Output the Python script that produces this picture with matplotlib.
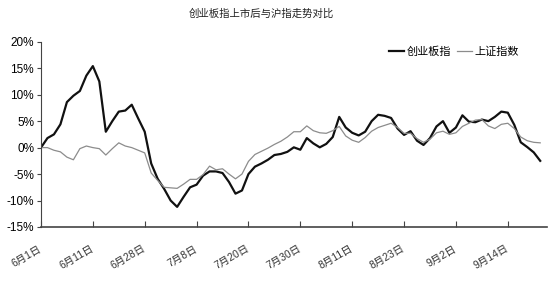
import matplotlib
matplotlib.use('Agg')
import matplotlib.pyplot as plt
import numpy as np

plt.rcParams['font.family'] = ['Liberation Sans', 'Noto Sans CJK SC']

# 创业板指 / 上证指数 相对6月1日的涨跌幅(%)
cyb = [0, 1.8, 2.5, 4.4, 8.6, 9.8, 10.7, 13.6, 15.4, 12.5,
       3.0, 5.0, 6.8, 7.0, 8.1, 5.5, 3.0, -3.0, -5.9, -7.8,
       -10.0, -11.2, -9.3, -7.5, -7.0, -5.3, -4.5, -4.5, -4.8, -6.5,
       -8.7, -8.1, -5.0, -3.6, -3.0, -2.3, -1.4, -1.2, -0.8, 0.05,
       -0.4, 1.8, 0.8, 0.05, 0.7, 2.0, 5.8, 3.8, 2.8, 2.3,
       3.0, 5.0, 6.2, 6.0, 5.6, 3.6, 2.4, 3.1, 1.3, 0.5,
       1.8, 4.0, 5.0, 2.8, 3.8, 6.1, 4.9, 4.8, 5.3, 5.0,
       5.8, 6.8, 6.6, 4.3, 1.0, 0.1, -0.9, -2.5]
szzs = [0, 0, -0.5, -0.8, -1.8, -2.3, -0.2, 0.3, 0, -0.2,
        -1.4, -0.2, 0.9, 0.3, 0, -0.5, -1.0, -4.8, -6.2, -7.5,
        -7.6, -7.7, -6.9, -6.0, -6.0, -5.1, -3.5, -4.2, -4.0, -5.0,
        -5.9, -5.0, -2.6, -1.3, -0.7, -0.1, 0.6, 1.2, 2.0, 3.0,
        3.0, 4.1, 3.2, 2.8, 2.7, 3.2, 4.0, 2.2, 1.4, 1.0,
        1.9, 3.1, 3.8, 4.2, 4.6, 3.8, 2.7, 2.7, 1.7, 1.0,
        1.6, 2.8, 3.1, 2.5, 2.8, 4.0, 4.6, 5.2, 5.3, 4.1,
        3.6, 4.4, 4.6, 3.6, 2.0, 1.3, 1.0, 0.9]
date_labels = ['6月1日', '6月11日', '6月28日', '7月8日', '7月20日',
               '7月30日', '8月11日', '8月23日', '9月2日', '9月14日']
label_step = 8  # 每8个交易日标一次
y_ticks = [-15, -10, -5, 0, 5, 10, 15, 20]


def draw_chart():
    fig = plt.figure(figsize=(5.5, 3.07), dpi=100)
    ax = fig.add_axes([0.0745, 0.2606, 0.9195, 0.6034])

    x = np.arange(len(cyb))
    ax.plot(x, cyb, color='#111111', lw=1.6, label='创业板指',
            solid_joinstyle='round')
    ax.plot(x, szzs, color='#8c8c8c', lw=0.9, label='上证指数',
            solid_joinstyle='round')

    ax.set_xlim(0, 78)
    ax.set_ylim(-15, 20)

    # 坐标轴
    ax.spines['top'].set_visible(False)
    ax.spines['right'].set_visible(False)
    ax.spines['bottom'].set_color('#444444')
    ax.spines['bottom'].set_linewidth(1.2)
    ax.spines['left'].set_color('#444444')
    ax.spines['left'].set_linewidth(0.8)

    ax.set_yticks(y_ticks)
    ax.set_yticklabels(['%d%%' % v for v in y_ticks], fontsize=8.5)
    ax.tick_params(axis='y', direction='out', length=3, width=0.8,
                   color='#444444', pad=2)

    xt = [i * label_step for i in range(len(date_labels))]
    ax.set_xticks(xt)
    ax.set_xticklabels(date_labels, fontsize=7.5, color='#333333',
                       rotation=30, ha='right', va='center',
                       rotation_mode='anchor')
    ax.tick_params(axis='x', direction='in', length=4, width=0.8,
                   color='#444444', pad=15)

    fig.text(0.475, 0.955, '创业板指上市后与沪指走势对比', fontsize=7.5,
             ha='center', va='center', color='#222222')

    ax.legend(loc='center', bbox_to_anchor=(0.826, 0.832),
              bbox_transform=fig.transFigure, ncol=2, frameon=False,
              fontsize=8, handlelength=1.3, handletextpad=0.3,
              columnspacing=0.5)

    fig.savefig('out.png', dpi=100)


draw_chart()
